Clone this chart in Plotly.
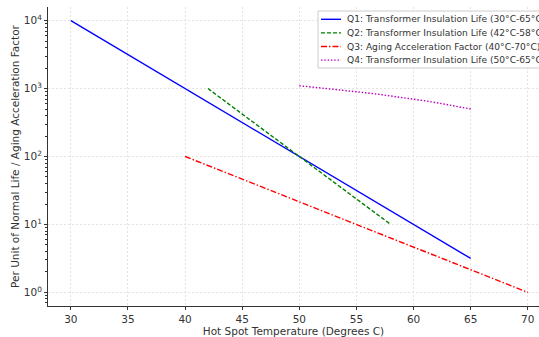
import plotly.graph_objects as go

# Data
q1_temp = [30, 35, 40, 45, 50, 55, 60, 65]
q1_vals = [10000, 3162, 1000, 316, 100, 31.6, 10, 3.16]

q2_temp = [42, 46, 50, 54, 58]
q2_vals = [1000, 316, 100, 31.6, 10]

q3_temp = [40, 45, 50, 55, 60, 65, 70]
q3_vals = [100, 46.4, 21.5, 10, 4.64, 2.15, 1]

q4_temp = [50, 51, 52, 53, 54, 55, 56, 57, 58, 59, 60, 61, 62, 63, 64, 65]
q4_vals = [1100, 1060, 1020, 980, 940, 900, 860, 820, 780, 740, 700, 660, 620, 580, 540, 500]

names = [
    "Q1: Transformer Insulation Life (30°C-65°C)",
    "Q2: Transformer Insulation Life (42°C-58°C)",
    "Q3: Aging Acceleration Factor (40°C-70°C)",
    "Q4: Transformer Insulation Life (50°C-65°C)",
]
colors = ["#0000ff", "#008000", "#ff0000", "#bf00bf"]
dashes = ["solid", "4px,2px", "6px,2px,1.5px,2px", "1.5px,1.8px"]

x_ticks = [30, 35, 40, 45, 50, 55, 60, 65, 70]
y_ticks = [1, 10, 100, 1000, 10000]
y_ticktext = ["10<sup>0</sup>", "10<sup>1</sup>", "10<sup>2</sup>", "10<sup>3</sup>", "10<sup>4</sup>"]

W, H = 539, 337
ML, MR, MT, MB = 48, 0, 7, 31
PW, PH = W - ML - MR, H - MT - MB


def px_x(p):
    return (p - ML) / PW


def px_y(p):
    return (H - MB - p) / PH


fig = go.Figure()
series = [(q1_temp, q1_vals), (q2_temp, q2_vals), (q3_temp, q3_vals), (q4_temp, q4_vals)]
for (xs, ys), nm, c, d in zip(series, names, colors, dashes):
    fig.add_trace(go.Scatter(x=xs, y=ys, mode="lines", name=nm,
                             line=dict(color=c, width=1.4, dash=d), showlegend=False))

# Compact legend (matplotlib-like spacing)
shapes = [dict(type="rect", xref="paper", yref="paper",
               x0=px_x(318), x1=px_x(560), y0=px_y(68), y1=px_y(11),
               fillcolor="rgba(255,255,255,0.85)", line=dict(color="#cccccc", width=1),
               layer="above")]
annotations = []
entry_y = [19.3, 32.9, 46.5, 60.1]
for yy, nm, c, d in zip(entry_y, names, colors, dashes):
    shapes.append(dict(type="line", xref="paper", yref="paper",
                       x0=px_x(321), x1=px_x(341), y0=px_y(yy), y1=px_y(yy),
                       line=dict(color=c, width=1.4, dash=d), layer="above"))
    annotations.append(dict(xref="paper", yref="paper", x=px_x(346), y=px_y(yy),
                            xanchor="left", yanchor="middle", showarrow=False,
                            text=nm, font=dict(size=9.1, color="#333333"), borderpad=0))

font = "DejaVu Sans"
fig.update_layout(
    width=W, height=H,
    margin=dict(l=ML, r=MR, t=MT, b=MB, autoexpand=False),
    paper_bgcolor="white", plot_bgcolor="white",
    font=dict(family=font, size=10, color="#333333"),
    shapes=shapes, annotations=annotations,
    showlegend=False,
)
fig.update_xaxes(
    range=[28, 70.98], tickvals=x_ticks, automargin=False,
    showline=True, linecolor="#333333", linewidth=1, mirror=False,
    ticks="outside", ticklen=3, tickcolor="#333333",
    showgrid=True, gridcolor="#e3e3e3", griddash="2px,2px", gridwidth=1,
    zeroline=False,
    tickfont=dict(size=10.5),
    title=dict(text="Hot Spot Temperature (Degrees C)", font=dict(size=10.5), standoff=2),
)
fig.update_yaxes(
    type="log", range=[-0.2, 4.2], automargin=False,
    tickvals=y_ticks, ticktext=y_ticktext,
    showline=True, linecolor="#333333", linewidth=1, mirror=False,
    ticks="outside", ticklen=3, tickcolor="#333333",
    minor=dict(ticks="outside", ticklen=2, dtick="D1", tickcolor="#333333", showgrid=False),
    showgrid=True, gridcolor="#e3e3e3", griddash="2px,2px", gridwidth=1,
    zeroline=False,
    tickfont=dict(size=10.5),
    title=dict(text="Per Unit of Normal Life / Aging Acceleration Factor", font=dict(size=10.5), standoff=2),
)

fig.write_html("out.html", config={"displayModeBar": False},
               post_script="document.body.style.margin='0';document.body.style.overflow='hidden';")
